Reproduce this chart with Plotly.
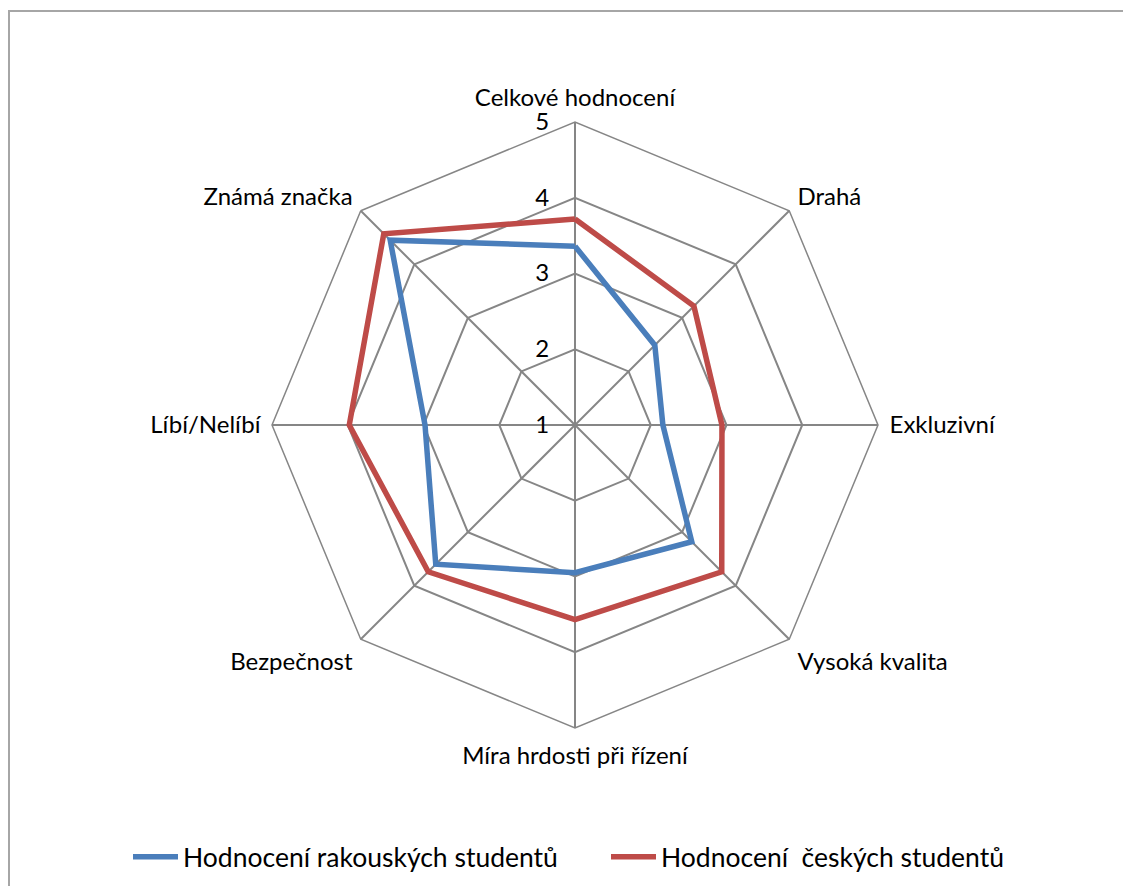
import plotly.graph_objects as go

categories = ["Celkové hodnocení", "Drahá", "Exkluzivní", "Vysoká kvalita",
              "Míra hrdosti při řízení", "Bezpečnost", "Líbí/Nelíbí", "Známá značka"]
austrian = [3.36, 2.49, 2.16, 3.18, 2.95, 3.60, 2.98, 4.45]
czech = [3.72, 3.22, 2.94, 3.74, 3.57, 3.74, 3.98, 4.57]
series_names = ["Hodnocení rakouských studentů", "Hodnocení  českých studentů"]
radial_ticks = [1, 2, 3, 4, 5]

# page body has an 8px margin; figure coords = screen coords - 8
W, H = 1115, 878
OFF = 8
FONT = "Lato"


def px(x):
    return (x - OFF) / W


def py(y):
    return (H - (y - OFF)) / H


fig = go.Figure()
fig.add_trace(go.Scatterpolar(
    r=austrian + austrian[:1], theta=categories + categories[:1],
    mode="lines", name=series_names[0],
    line=dict(color="#4A7EBB", width=5.5)))
fig.add_trace(go.Scatterpolar(
    r=czech + czech[:1], theta=categories + categories[:1],
    mode="lines", name=series_names[1],
    line=dict(color="#BE4B48", width=5.5)))

fig.update_layout(
    width=W, height=H,
    margin=dict(l=0, r=0, t=0, b=0),
    paper_bgcolor="white",
    font=dict(family=FONT, size=24, color="black"),
    polar=dict(
        domain=dict(x=[px(272), px(878)], y=[py(728), py(122)]),
        bgcolor="white",
        gridshape="linear",
        radialaxis=dict(
            range=[1, 5], tickvals=radial_ticks, angle=90, tickangle=90,
            side="counterclockwise",
            showline=False, gridcolor="#868686", gridwidth=1.5,
            ticks="outside", ticklen=17, tickcolor="rgba(0,0,0,0)",
            tickfont=dict(size=24), layer="below traces"),
        angularaxis=dict(
            direction="clockwise", rotation=90,
            showline=True, linecolor="#868686", linewidth=1.5,
            gridcolor="#868686", gridwidth=1.5,
            ticks="outside", ticklen=6, tickcolor="rgba(0,0,0,0)",
            tickfont=dict(size=24), layer="below traces"),
    ),
    showlegend=True,
    legend=dict(orientation="h", x=px(128), xanchor="left",
                y=py(857), yanchor="middle",
                itemwidth=45,
                entrywidth=418, entrywidthmode="pixels",
                font=dict(size=26.5)),
    shapes=[
        dict(type="line", xref="paper", yref="paper",
             x0=1 / W, x1=1 / W, y0=-0.05, y1=1 - 3 / H,
             line=dict(color="#A6A6A6", width=2)),
        dict(type="line", xref="paper", yref="paper",
             x0=0, x1=1.05, y0=1 - 3 / H, y1=1 - 3 / H,
             line=dict(color="#A6A6A6", width=2)),
    ],
)

fig.write_html("out.html")
